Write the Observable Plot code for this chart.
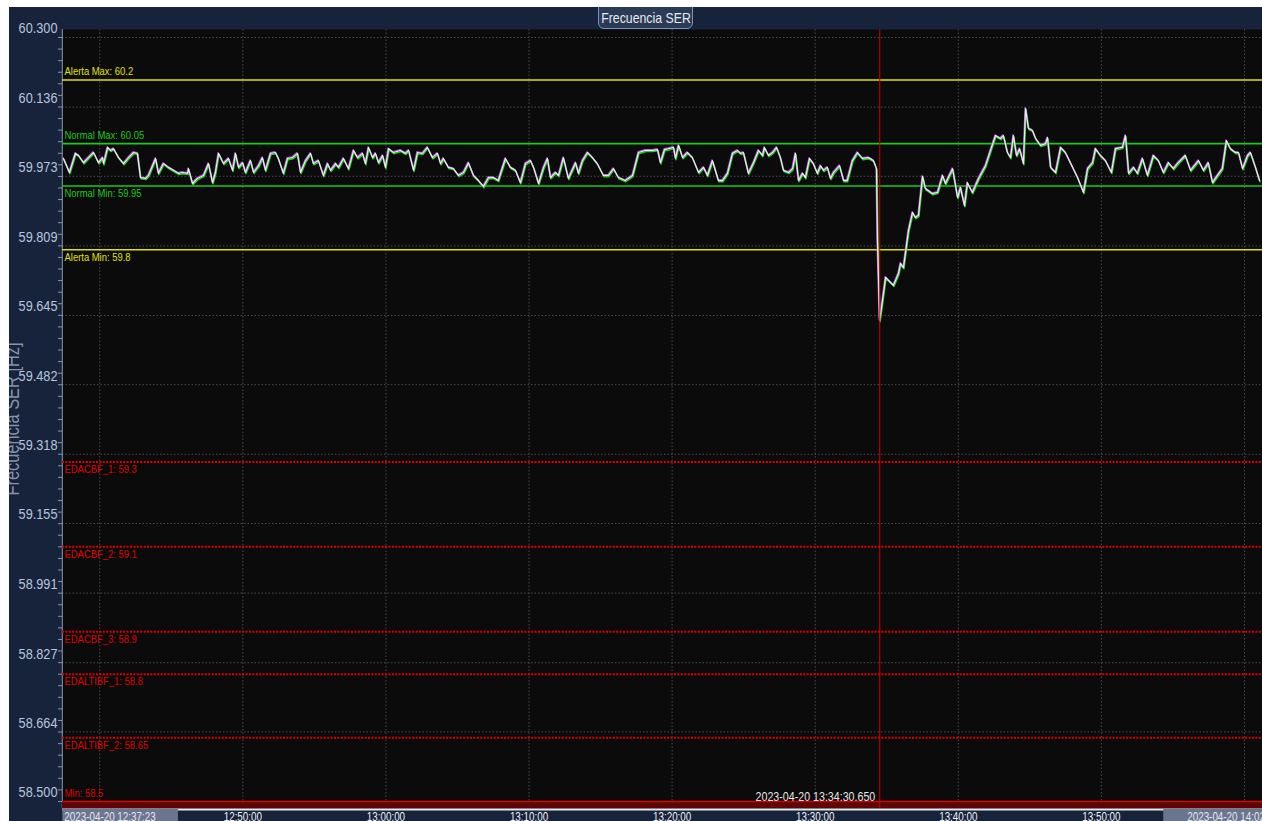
<!DOCTYPE html>
<html><head><meta charset="utf-8">
<script src="https://cdn.jsdelivr.net/npm/d3@7"></script>
<script src="https://cdn.jsdelivr.net/npm/@observablehq/plot@0.6"></script>
<style>
html,body{margin:0;padding:0;background:#fff;width:1262px;height:821px;overflow:hidden;}
#wrap{position:absolute;left:0;top:0;width:1262px;height:821px;background:#16233b;overflow:hidden;}
#maskTop{position:absolute;left:0;top:0;width:1262px;height:7px;background:#fff;z-index:5}
#maskLeft{position:absolute;left:0;top:0;width:9px;height:821px;background:#fff;z-index:5}
#title{position:absolute;left:598px;top:3px;width:95px;height:26px;box-sizing:border-box;background:#2c3b55;border:1px solid #7d92b8;border-radius:0 0 6px 6px;z-index:4;overflow:hidden}
#title span{position:absolute;left:50%;top:5px;white-space:nowrap;color:#e4eaf3;font:15px "Liberation Sans",Arial,sans-serif;line-height:17px;transform:translateX(-50%) scaleX(0.82);transform-origin:center}
</style></head><body>
<div id="wrap"></div>
<div id="title"><span>Frecuencia SER</span></div>
<div id="maskTop"></div><div id="maskLeft"></div>
<script>
// ---- data ----
const startStamp = "2023-04-20T12:37:23";
const endStamp = "2023-04-20T14:02:23";
const cursorStamp = "2023-04-20T13:34:30.650";
const seriesName = "Frecuencia SER [Hz]";

const elapsedSec = [5,30,55,68,89,110,131,152,169,173,190,202,215,236,257,278,299,315,328,349,361,391,403,424,445,466,487,504,525,529,546,567,592,613,630,642,655,676,697,714,726,739,756,768,789,802,823,839,852,873,894,906,927,944,965,986,999,1020,1041,1053,1074,1095,1112,1125,1146,1158,1179,1200,1221,1238,1259,1271,1284,1301,1313,1326,1343,1355,1368,1389,1418,1439,1452,1473,1489,1510,1531,1552,1573,1586,1598,1619,1640,1661,1682,1703,1724,1745,1766,1787,1808,1828,1858,1879,1900,1921,1942,1963,1976,1997,2018,2034,2047,2068,2081,2101,2122,2152,2164,2181,2202,2223,2243,2269,2290,2311,2332,2361,2391,2416,2445,2475,2496,2508,2525,2542,2563,2571,2584,2601,2621,2642,2668,2689,2705,2726,2751,2768,2789,2810,2831,2844,2856,2877,2898,2919,2936,2944,2961,2978,2995,3011,3024,3045,3062,3074,3087,3104,3116,3133,3149,3166,3179,3192,3208,3221,3234,3259,3276,3291,3313,3334,3355,3380,3401,3414,3418,3427,3439,3452,3464,3485,3506,3515,3527,3548,3565,3577,3590,3607,3619,3649,3670,3691,3703,3733,3754,3766,3783,3795,3816,3842,3871,3892,3913,3934,3946,3963,3976,3988,4001,4014,4030,4039,4051,4068,4081,4102,4123,4131,4144,4165,4186,4206,4227,4257,4282,4299,4320,4332,4353,4374,4399,4416,4445,4458,4471,4492,4508,4529,4550,4575,4596,4617,4638,4659,4679,4709,4731,4764,4785,4805,4823,4844,4864,4881,4898,4919,4932,4949,4970,4982,5003,5020];
const freqHz = [60.015,59.982,60.027,60.022,60.005,60.017,60.029,60.005,60.017,60.003,60.041,60.034,60.038,60.017,60.003,60.017,60.029,60.027,59.970,59.968,59.975,60.015,59.980,60.003,59.994,59.987,59.980,59.982,59.980,59.991,59.956,59.968,59.975,60.003,59.958,59.982,60.027,60.003,60.015,59.987,60.027,59.994,60.005,59.982,60.010,59.982,59.998,60.017,59.987,60.027,60.029,60.015,59.980,60.015,60.017,60.027,59.982,60.010,60.027,60.003,60.010,59.975,60.003,59.987,60.003,59.994,60.015,59.991,60.034,60.017,60.027,60.003,60.041,60.017,60.027,60.005,60.022,59.994,60.038,60.029,60.034,60.027,60.034,59.987,60.029,60.027,60.041,60.017,60.027,60.003,60.015,59.994,59.991,59.975,59.982,60.005,59.975,59.963,59.949,59.970,59.970,59.963,60.015,59.994,59.987,59.958,60.003,60.010,59.994,59.956,59.994,60.015,59.970,59.982,59.975,60.017,59.968,60.005,59.980,60.010,60.029,60.017,60.003,59.975,59.975,59.991,59.970,59.963,59.975,60.029,60.034,60.034,60.036,60.005,60.036,60.038,60.041,60.015,60.046,60.017,60.029,60.017,59.982,59.994,59.975,60.010,59.963,59.963,59.980,60.027,60.034,60.027,60.029,59.980,60.005,60.034,60.022,60.041,60.022,60.029,60.041,60.017,59.987,59.982,59.991,60.027,59.963,59.980,59.970,60.015,60.003,59.980,59.998,59.987,59.994,59.968,59.982,59.998,59.963,59.963,60.010,60.029,60.015,60.017,60.010,59.991,59.822,59.633,59.680,59.735,59.728,59.716,59.744,59.768,59.758,59.845,59.888,59.876,59.881,59.973,59.944,59.932,59.935,59.975,59.956,59.991,59.923,59.947,59.904,59.958,59.935,59.968,59.998,60.034,60.069,60.062,60.069,60.029,60.017,60.069,60.022,60.038,60.003,60.133,60.086,60.081,60.062,60.046,60.050,60.064,59.994,59.982,60.041,60.029,60.005,59.970,59.935,59.991,60.005,60.038,60.022,60.010,59.982,60.038,60.041,60.069,59.980,59.994,59.980,60.015,59.975,60.022,60.010,59.982,60.005,59.991,60.005,60.022,59.987,60.010,59.987,60.005,59.958,59.975,59.991,60.057,60.038,60.029,60.029,59.991,60.022,60.029,59.994,59.963];

const yTickValues = [60.300,60.136,59.973,59.809,59.645,59.482,59.318,59.155,58.991,58.827,58.664,58.500];
const xTickTimes = ["12:40:00","12:50:00","13:00:00","13:10:00","13:20:00","13:30:00","13:40:00","13:50:00","14:00:00"];
const limitNames = ["Alerta Max","Normal Max","Normal Min","Alerta Min","EDACBF_1","EDACBF_2","EDACBF_3","EDALTIBF_1","EDALTIBF_2","Min"];
const limitValues = [60.2,60.05,59.95,59.8,59.3,59.1,58.9,58.8,58.65,58.5];

// ---- build ----
const FONT = '"Liberation Sans",Arial,sans-serif';
const NARROW = 0.82;
const t0 = new Date(startStamp);
const tEnd = new Date(endStamp);
const day = startStamp.slice(0, 10);
const toDate = hms => new Date(day + "T" + hms);
const series = elapsedSec.map((s, i) => ({time: new Date(+t0 + s * 1000), value: freqHz[i]}));
const limits = limitNames.map((n, i) => ({name: n, value: limitValues[i], label: `${n}: ${limitValues[i]}`}));
const kind = n => n.startsWith("Alerta") ? "alert" : n.startsWith("Normal") ? "normal" : n === "Min" ? "min" : "eda";
const kindColor = {alert: "#e2e200", normal: "#1ec81e", eda: "#e00000", min: "#e00000"};
const isAbove = n => n === "Alerta Max" || n === "Normal Max" || n === "Min";
const yMin = d3.min(yTickValues), yMax = d3.max(yTickValues);
const minorStep = (yMax - yMin) / (yTickValues.length - 1) / 6;
const minorTicks = d3.range(0, (yTickValues.length - 1) * 6 + 1).map(i => yMin + i * minorStep);
const cursorDate = new Date(cursorStamp);
const stampText = s => s.replace("T", " ");
// tick labels that sit under the window start / end stamps are hidden (as in the reference)
const gapMs = 7 * 60 * 1000;
const visibleTickTimes = xTickTimes.filter(h => toDate(h) - t0 > gapMs && tEnd - toDate(h) > gapMs);

const plot = Plot.plot({
  width: 1262, height: 821,
  marginTop: 29, marginBottom: 13, marginLeft: 62, marginRight: 0,
  style: {background: "transparent", fontFamily: FONT, color: "#8796b4"},
  x: {type: "time", domain: [t0, toDate("14:00:00")], range: [61.8, 1244], axis: null},
  y: {domain: [yMin, yMax], range: [801, 37], axis: "left", ticks: minorTicks, tickFormat: () => "", tickSize: 4, label: null},
  marks: [
    Plot.frame({fill: "#0b0b0b", stroke: null}),
    Plot.ruleY(yTickValues, {stroke: "#4c4c4c", strokeDasharray: "1.5,2"}),
    Plot.ruleX(xTickTimes.map(toDate), {stroke: "#4c4c4c", strokeDasharray: "1.5,2"}),
    Plot.ruleX([t0], {stroke: "#8796b4", strokeWidth: 1}),
    // lower limit band
    Plot.ruleY(limits.filter(d => kind(d.name) === "min"), {y: "value", stroke: "#5c0606", strokeWidth: 7, dy: 3.5}),
    Plot.ruleY(limits.filter(d => kind(d.name) === "min"), {y: "value", stroke: "#d80000", strokeWidth: 1.5}),
    Plot.ruleY(limits.filter(d => kind(d.name) === "min"), {y: "value", stroke: "#e6e8ec", strokeWidth: 2, dy: 8}),
    // limit lines
    Plot.ruleY(limits.filter(d => kind(d.name) === "alert" || kind(d.name) === "normal"), {y: "value", stroke: d => kindColor[kind(d.name)], strokeWidth: 1.6}),
    Plot.ruleY(limits.filter(d => kind(d.name) === "eda"), {y: "value", stroke: "#e00000", strokeWidth: 2, strokeDasharray: "2,1.4"}),
    Plot.text(limits.filter(d => isAbove(d.name)), {y: "value", text: "label", frameAnchor: "left", textAnchor: "start", lineAnchor: "bottom", dx: 2, dy: -5, fill: d => kindColor[kind(d.name)], fontSize: 11.5}),
    Plot.text(limits.filter(d => !isAbove(d.name)), {y: "value", text: "label", frameAnchor: "left", textAnchor: "start", lineAnchor: "top", dx: 2, dy: 3, fill: d => kindColor[kind(d.name)], fontSize: 11.5}),
    // series
    Plot.line(series, {x: "time", y: "value", stroke: "#1fd21f", strokeWidth: 1.5, dy: 1.2, dx: 0.5}),
    Plot.line(series, {x: "time", y: "value", stroke: "#b048d8", strokeWidth: 1.3, dy: -0.8, dx: -0.5}),
    Plot.line(series, {x: "time", y: "value", stroke: "#ececec", strokeWidth: 1.2}),
    // cursor
    Plot.ruleX([cursorDate], {stroke: "#d00000", strokeWidth: 1}),
    Plot.text([cursorStamp], {x: () => cursorDate, text: stampText, frameAnchor: "bottom", textAnchor: "end", dx: -4.5, dy: -8, fill: "#e8e8e8", fontSize: 13}),
    // y tick labels
    Plot.text(yTickValues, {y: d => d, text: d => d.toFixed(3), frameAnchor: "left", textAnchor: "end", dx: -5, dy: -9, fill: "#b9c5dc", fontSize: 15.5}),
    // y title
    Plot.text([seriesName], {text: d => d, frameAnchor: "left", textAnchor: "middle", rotate: -90, dx: -50, fill: "#8492ad", fontSize: 20}),
    // x tick labels
    Plot.text(visibleTickTimes, {x: toDate, text: d => d, frameAnchor: "bottom", lineAnchor: "top", dy: 4, fill: "#eef2f8", fontSize: 12}),
    Plot.text([startStamp], {x: d => new Date(d), text: stampText, frameAnchor: "bottom", lineAnchor: "top", textAnchor: "start", dx: 2, dy: 4, fill: "#e4e8f0", fontSize: 12}),
    Plot.text([endStamp], {x: d => new Date(d), text: stampText, frameAnchor: "bottom", lineAnchor: "top", textAnchor: "end", dx: 0, dy: 4, fill: "#e4e8f0", fontSize: 12})
  ]
});
document.getElementById("wrap").append(plot);

// narrow the lettering, as in the reference
plot.querySelectorAll("text").forEach(t => {
  const w = t.getComputedTextLength();
  if (w > 0) {
    t.setAttribute("textLength", (w * NARROW).toFixed(2));
    t.setAttribute("lengthAdjust", "spacingAndGlyphs");
  }
});

// label boxes behind the window start / end stamps
const boxFor = (label, padL, padR, toEdge) => {
  const t = Array.from(plot.querySelectorAll("text")).find(e => e.textContent === label);
  if (!t) return;
  const bb = t.getBBox();
  const r = document.createElementNS("http://www.w3.org/2000/svg", "rect");
  r.setAttribute("x", bb.x - padL);
  r.setAttribute("y", bb.y - 1);
  r.setAttribute("width", toEdge ? 400 : bb.width + padL + padR);
  r.setAttribute("height", 30);
  r.setAttribute("fill", "#6b7590");
  r.setAttribute("stroke", "none");
  if (t.getAttribute("transform")) r.setAttribute("transform", t.getAttribute("transform"));
  t.parentNode.insertBefore(r, t);
};
boxFor(stampText(startStamp), 2, 22, false);
boxFor(stampText(endStamp), 24, 0, true);
</script>
</body></html>
